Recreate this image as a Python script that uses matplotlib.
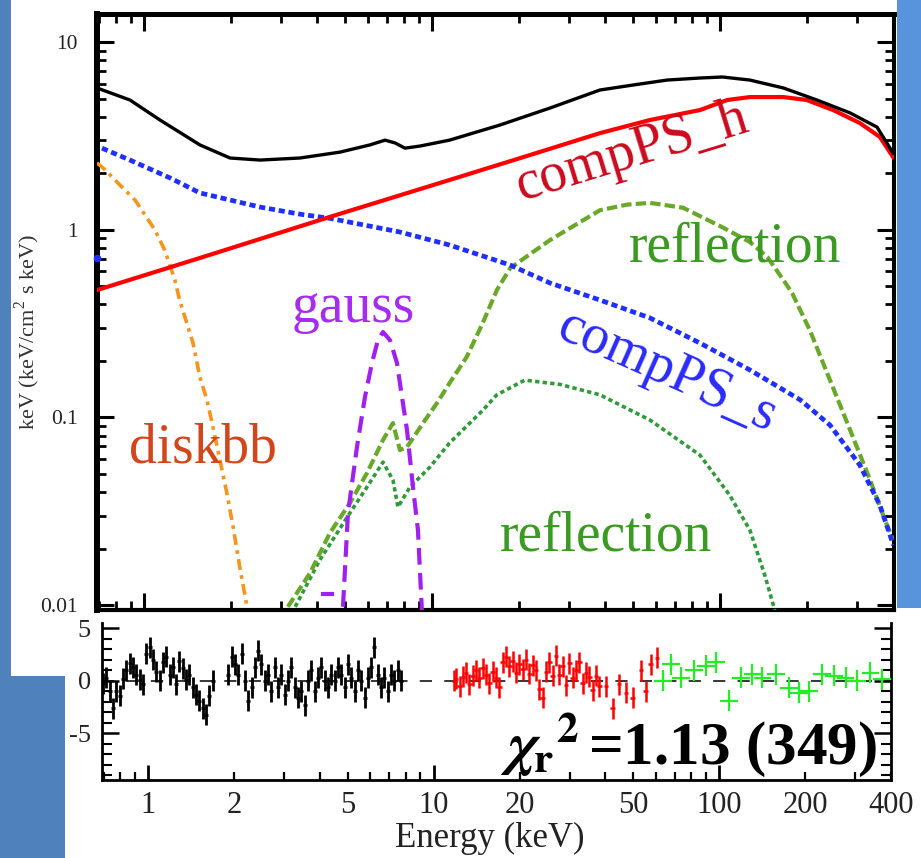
import numpy as np
import matplotlib
matplotlib.use('Agg')
import matplotlib.pyplot as plt
from matplotlib.patches import Rectangle
from matplotlib.ticker import FixedLocator, NullFormatter, FuncFormatter

plt.rcParams['font.family'] = ['Liberation Serif', 'DejaVu Serif']
plt.rcParams['mathtext.fontset'] = 'cm'
plt.rcParams['axes.unicode_minus'] = False

# ---------------- model components (E in keV, E*F in keV/cm2/s) -------------
total_E = [0.687, 0.894, 1.137, 1.564, 1.99, 2.53, 3.48, 4.79, 6.09, 6.87, 7.44, 8.06,
           9.08, 11.5, 17.2, 25.7, 38.3, 49.9, 65.5, 85.2, 102, 127, 166, 217, 283, 351, 399]
total_F = [5.69, 4.91, 3.84, 2.83, 2.41, 2.35, 2.41, 2.59, 2.83, 3.00, 2.90, 2.72,
           2.79, 3.00, 3.61, 4.45, 5.55, 5.90, 6.27, 6.43, 6.51, 6.27, 5.69, 4.91, 4.19, 3.52, 2.56]

comph_E = [0.687, 1.564, 4.42, 11.5, 21.9, 38.3, 57.1, 85.2, 106, 127, 166, 200, 247, 306, 359, 399]
comph_F = [0.477, 0.707, 1.17, 1.84, 2.50, 3.27, 3.84, 4.34, 4.91, 5.09, 5.09, 4.91, 4.34, 3.70, 3.12, 2.44]

comps_E = [0.715, 0.894, 1.23, 1.564, 1.99, 2.53, 3.48, 4.42, 7.74, 11.5, 18.7, 25.7,
           38.3, 57.1, 85.2, 127, 190, 241, 306, 359, 400]
comps_F = [2.72, 2.35, 1.89, 1.57, 1.44, 1.32, 1.21, 1.15, 0.972, 0.829, 0.648, 0.52,
           0.422, 0.339, 0.249, 0.179, 0.124, 0.091, 0.0557, 0.0341, 0.0209]
comps_first_E = [0.687]
comps_first_F = [0.707]

disk_E = [0.687, 0.732, 0.825, 0.931, 1.008, 1.092, 1.18, 1.23, 1.28, 1.33, 1.48, 1.564,
          1.654, 1.736, 1.836, 1.94, 2.04, 2.15, 2.28]
disk_F = [2.27, 2.09, 1.73, 1.44, 1.20, 0.996, 0.78, 0.648, 0.54, 0.422, 0.249, 0.164,
          0.124, 0.089, 0.0593, 0.0395, 0.0261, 0.016, 0.0098]

gauss_E = [4.91, 5.11, 5.49, 5.85, 6.19, 6.49, 6.76, 7.15, 7.56, 7.87, 8.19, 8.59, 8.94, 9.23]
gauss_F = [0.0098, 0.031, 0.0695, 0.128, 0.195, 0.258, 0.285, 0.258, 0.195, 0.128, 0.0857,
           0.0426, 0.0251, 0.0092]
gauss_tail_E = [4.2, 4.5]
gauss_tail_F = [0.0115, 0.0115]

refl1_E = [3.16, 3.77, 4.42, 5.19, 5.95, 6.76, 7.32, 7.74, 8.19, 9.31, 10.4, 11.5, 13.2, 15.0,
           16.8, 18.7, 25.7, 38.3, 47.5, 57.1, 74.4, 102, 127, 146, 166, 178, 205, 241, 283,
           332, 374, 399]
refl1_F = [0.0098, 0.0148, 0.0242, 0.035, 0.0506, 0.0758, 0.0933, 0.067, 0.0695, 0.0933,
           0.119, 0.152, 0.21, 0.318, 0.477, 0.625, 0.881, 1.27, 1.36, 1.39, 1.31, 1.03, 0.86,
           0.716, 0.54, 0.46, 0.292, 0.158, 0.0857, 0.0464, 0.0284, 0.0222]

refl2_E = [3.35, 4.08, 5.19, 5.95, 6.76, 7.32, 7.62, 8.39, 9.84, 11.5, 15.0, 16.8, 21.0, 27.8,
           38.3, 57.1, 85.2, 108, 127, 143, 155]
refl2_F = [0.0098, 0.0174, 0.031, 0.0426, 0.0578, 0.0464, 0.0333, 0.0426, 0.0544, 0.073,
           0.109, 0.132, 0.158, 0.15, 0.132, 0.0969, 0.063, 0.0386, 0.0251, 0.0145, 0.0094]

# ---------------- residuals (sigma) -----------------------------------------
xis_E = [0.696, 0.715, 0.734, 0.754, 0.775, 0.796, 0.817, 0.840, 0.862, 0.886, 0.910, 0.935,
         0.960, 0.986, 1.013, 1.040, 1.069, 1.098, 1.127, 1.158, 1.190, 1.222, 1.255, 1.289,
         1.324, 1.360, 1.397, 1.435, 1.474, 1.514, 1.555, 1.597, 1.641, 1.685,
         1.910, 1.962, 2.015, 2.070, 2.126, 2.184, 2.243, 2.304, 2.367, 2.431, 2.497, 2.565,
         2.635, 2.706, 2.780, 2.855, 2.933, 3.012, 3.094, 3.178, 3.265, 3.353, 3.444, 3.538,
         3.634, 3.733, 3.834, 3.938, 4.045, 4.155, 4.268, 4.384, 4.503, 4.625, 4.751, 4.880,
         5.012, 5.148, 5.288, 5.432, 5.579, 5.731, 5.886, 6.046, 6.210, 6.379, 6.552, 6.730,
         6.913, 7.100, 7.293, 7.491, 7.695]
xis_R = [-0.2, 0.3, -1.0, -2.6, -1.0, -1.4, 0.2, 1.0, 1.7, 1.3, 0.6, 0.1, -0.3, 2.6, 3.2, 2.0,
         0.9, 0.0, 1.8, 2.3, 0.6, 1.3, -0.3, 1.9, 1.2, 0.1, 0.6, -0.6, -1.3, -1.9, -2.6, -3.2,
         -1.4, 0.0,
         0.6, 2.3, 1.6, 0.6, 2.6, 0.0, -1.9, -0.6, 1.3, 2.9, 1.6, 0.0, 0.6, -1.0, 1.3, -0.6,
         0.6, -1.3, 0.0, 1.3, -0.6, -1.6, -1.0, -2.3, 0.0, 1.0, -1.0, 0.3, 1.3, 0.0, -0.6, 0.6,
         0.0, 1.3, 0.6, -0.6, 1.6, 0.3, -1.0, 1.0, 0.0, -1.6, 0.3, 1.3, 3.2, 0.6, -0.6, 0.3,
         -1.0, 0.6, 0.0, 1.0, 0.0]

pin_E = [11.84, 12.00, 12.33, 12.66, 13.01, 13.36, 13.72, 14.10, 14.48, 14.87, 15.28, 15.69,
         16.12, 16.56, 17.01, 17.47, 17.95, 18.43, 18.93, 19.45, 19.98, 20.52, 21.08, 21.65,
         22.24, 22.85, 23.47, 24.11, 24.76, 25.44, 26.13, 26.84, 27.57, 28.32, 29.09, 29.88,
         30.69, 31.53, 32.38, 33.27, 34.17, 35.10, 36.06, 37.04, 38.04, 40.14, 42.35, 44.69,
         47.16, 49.76, 53.19, 55.34, 57.6, 60.7]
pin_R = [0.0, 0.2, -0.5, 0.4, 0.8, -0.3, 0.5, 1.0, 0.3, 1.2, 0.6, -0.2, 0.9, 0.3, -0.6, 1.8,
         2.3, 1.4, 1.9, 0.8, 1.6, 1.1, 2.0, 0.7, 1.5, 1.0, -0.8, -1.6, 0.9, 1.8, 0.5, 2.4,
         0.6, 1.4, -0.4, 1.7, 0.3, 1.0, 1.8, -0.2, 0.8, 0.4, -0.9, 0.5, -0.5, -0.5, -2.6,
         -0.3, -1.1, -1.6, 1.0, -1.0, 1.6, 2.2]

gso_E = [63.7, 67.8, 73.5, 81.8, 89.8, 97.3, 108.3, 119, 130.8, 141.8, 157.8, 175.6, 190.4,
         206.4, 229.6, 252.4, 277.3, 304.5, 339, 372.5]
gso_R = [0.0, 1.6, 0.3, 1.0, 1.45, 1.8, -1.9, 0.3, 0.65, 0.3, 0.65, -0.65, -1.1, -1.0, 0.65,
         0.5, 0.3, 0.0, 0.8, 0.15]

ytick_vals = [0.01, 0.1, 1, 10]
ytick_labels = ['0.01', '0.1', '1', '10']
xtick_major = [1, 10, 100]
xtick_labels = {1: '1', 2: '2', 5: '5', 10: '10', 20: '20', 50: '50', 100: '100',
                200: '200', 400: '400'}
rtick_vals = [-5, 0, 5]
rtick_labels = ['-5', '0', '5']

# ---------------- figure ------------------------------------------------------
W, H = 921, 858
fig = plt.figure(figsize=(W / 100, H / 100), dpi=100)
fig.patch.set_facecolor('white')


def fbox(l, t, r, b):
    return [l / W, 1 - b / H, (r - l) / W, (b - t) / H]


for (l, t, r, b, c) in [(0, 0, 11, 676, '#4f81bd'), (0, 676, 65, 858, '#4f81bd'),
                        (897, 0, 921, 608, '#5894db')]:
    fig.add_artist(Rectangle((l / W, 1 - b / H), (r - l) / W, (b - t) / H,
                             transform=fig.transFigure, facecolor=c, edgecolor='none',
                             zorder=0))

ax1 = fig.add_axes(fbox(97, 14, 894, 610))
ax1.set_xscale('log')
ax1.set_yscale('log')
ax1.set_xlim(0.687, 402)
ax1.set_ylim(0.00942, 14.1)

ax1.plot(refl2_E, refl2_F, color='#2f9a3a', lw=2.6, ls=(0, (1.2, 0.9)), zorder=3)
ax1.plot(refl1_E, refl1_F, color='#69a82a', lw=3.0, ls=(0, (2.5, 1.0)), zorder=3)
ax1.plot(gauss_E, gauss_F, color='#a020f0', lw=3.0, ls=(0, (4, 2)), zorder=3)
ax1.plot(gauss_tail_E, gauss_tail_F, color='#a020f0', lw=3.0, zorder=3)
ax1.plot(disk_E, disk_F, color='#f7941d', lw=2.6, ls=(0, (3, 1.5, 1, 1.5)), zorder=3)
ax1.plot(comps_E, comps_F, color='#1f2fff', lw=3.4, ls=(0, (1.3, 0.8)), zorder=4)
ax1.plot(comps_first_E, comps_first_F, 'o', color='#1f2fff', ms=4.5, zorder=4, clip_on=False)
ax1.plot(comph_E, comph_F, color='#ff0000', lw=3.0, zorder=5)
ax1.plot(total_E, total_F, color='black', lw=2.4, zorder=6)

fs_lab = 40
ax1.text(49.5, 2.59, 'compPS_h', color='#cc0a1e', fontsize=fs_lab, rotation=17,
         ha='center', va='center', zorder=7)
ax1.text(113, 0.80, 'reflection', color='#3a9a22', fontsize=fs_lab, ha='center', va='center',
         zorder=7)
ax1.text(5.32, 0.383, 'gauss', color='#a52cf0', fontsize=fs_lab, ha='center', va='center',
         zorder=7)
ax1.text(65.9, 0.174, 'compPS_s', color='#2a2aff', fontsize=fs_lab, rotation=-24,
         ha='center', va='center', zorder=7)
ax1.text(1.60, 0.0687, 'diskbb', color='#d2461c', fontsize=fs_lab, ha='center', va='center',
         zorder=7)
ax1.text(40.2, 0.0231, 'reflection', color='#3a9a22', fontsize=fs_lab, ha='center',
         va='center', zorder=7)

ax1.set_yticks(ytick_vals)
ax1.set_yticklabels(ytick_labels)
ax1.yaxis.set_minor_formatter(NullFormatter())
ax1.xaxis.set_major_locator(FixedLocator(xtick_major))
ax1.xaxis.set_major_formatter(NullFormatter())
ax1.xaxis.set_minor_formatter(NullFormatter())
ax1.tick_params(which='both', direction='in', top=True, right=True, labelbottom=False,
                colors='black', labelcolor='#222222')
ax1.tick_params(which='major', length=12, width=2.2, labelsize=15.5, pad=14)
ax1.tick_params(which='minor', length=6.5, width=2.0)
for side, lw in [('left', 4.3), ('top', 3.6), ('right', 2.9), ('bottom', 3.0)]:
    ax1.spines[side].set_linewidth(lw)

fig.text(28 / W, 1 - 332 / H, 'keV (keV/cm$^{\\mathregular{2}}$ s keV)', rotation=90,
         ha='center', va='center', fontsize=16, color='#333333')

# ---------------- residual panel -------------------------------------------
ax2 = fig.add_axes(fbox(102, 623, 891, 780))
ax2.set_xscale('log')
ax2.set_xlim(0.69, 400)
ax2.set_ylim(-9.43, 5.52)
ax2.axhline(0, color='black', lw=1.1, ls=(0, (8, 8)), zorder=1)


def xerr_of(E, hw):
    E = np.asarray(E, dtype=float)
    return [E - E / 10 ** hw, E * 10 ** hw - E]


ax2.errorbar(xis_E, xis_R, yerr=1.0, xerr=xerr_of(xis_E, 0.007), fmt='none',
             ecolor='black', elinewidth=2.0, zorder=3)
ax2.errorbar(pin_E, pin_R, yerr=1.0, xerr=xerr_of(pin_E, 0.008), fmt='none',
             ecolor='#ff0000', elinewidth=1.8, zorder=3)
ax2.errorbar(gso_E, gso_R, yerr=1.0, xerr=xerr_of(gso_E, 0.031), fmt='none',
             ecolor='#22ee22', elinewidth=1.6, zorder=3)

ax2.xaxis.set_major_locator(FixedLocator(xtick_major))
ax2.xaxis.set_major_formatter(FuncFormatter(lambda v, p: xtick_labels.get(int(round(v)), '')))
ax2.xaxis.set_minor_formatter(FuncFormatter(
    lambda v, p: xtick_labels.get(int(round(v)), '') if abs(v - round(v)) < 1e-6 else ''))
ax2.set_yticks(rtick_vals)
ax2.set_yticklabels(rtick_labels)
ax2.yaxis.set_minor_locator(FixedLocator(list(range(-9, 6))))
ax2.tick_params(which='both', direction='in', right=True, top=False, labelcolor='#222222')
ax2.tick_params(axis='x', which='both', labelsize=22, pad=8)
ax2.tick_params(axis='y', which='both', labelsize=19, pad=8)
ax2.tick_params(axis='x', which='major', length=11, width=2.0)
ax2.tick_params(axis='x', which='minor', length=6, width=1.6)
ax2.tick_params(axis='y', which='major', length=12, width=1.8)
ax2.tick_params(axis='y', which='minor', length=7, width=1.5)
ax2.spines['top'].set_visible(False)
for side in ['left', 'right', 'bottom']:
    ax2.spines[side].set_linewidth(2.0)

fig.text(877 / W, 1 - 745 / H,
         r'$\mathbfit{\chi}_{\mathbf{r}}{}^{\mathbf{2}}\,$=1.13 (349)',
         fontsize=44, fontweight='bold', family='Liberation Serif', math_fontfamily='stix',
         ha='right', va='center', zorder=6, color='black')

fig.text(490 / W, 1 - 838 / H, 'Energy (keV)', ha='center', va='center', fontsize=25,
         color='#222222')

fig.savefig('out.png', dpi=100)
